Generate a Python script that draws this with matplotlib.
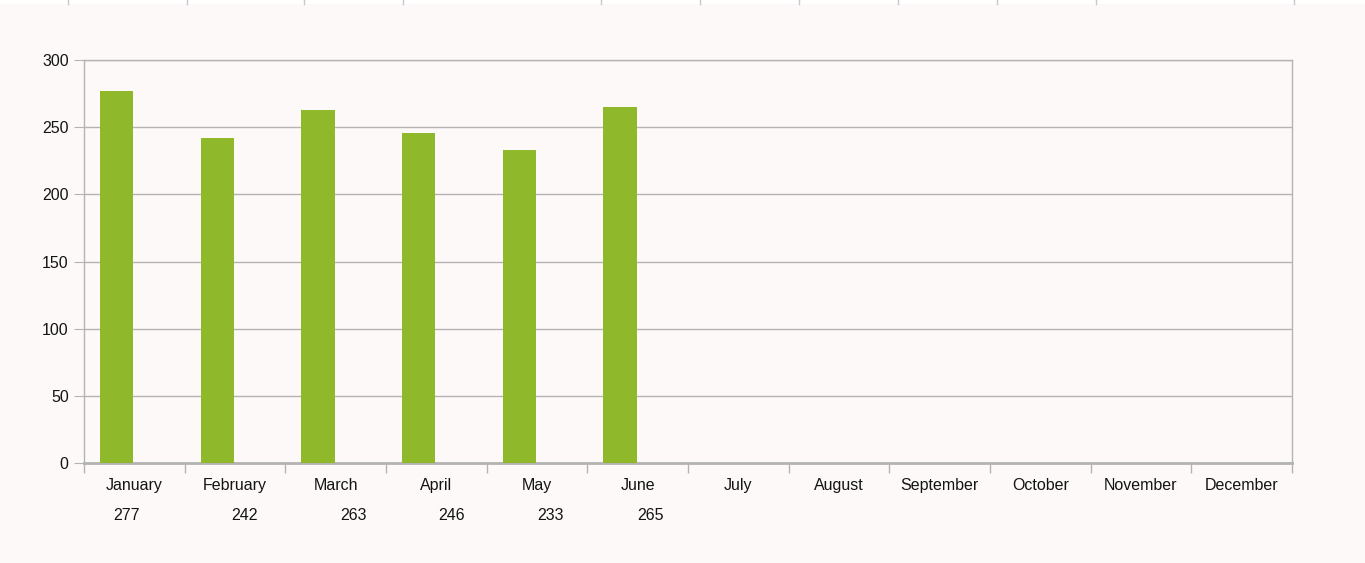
import matplotlib
matplotlib.use("Agg")
import matplotlib.pyplot as plt
from matplotlib.patches import Rectangle
import numpy as np

months = ['January', 'February', 'March', 'April', 'May', 'June', 'July',
          'August', 'September', 'October', 'November', 'December']
values = [277, 242, 263, 246, 233, 265]
# x pixel positions of the value cells under the chart
value_cell_x = [127, 245, 353, 452, 551, 650]
# column separators of the sheet strip at the top
sheet_cols_x = [68, 187, 304, 403, 601, 700, 799, 898, 997, 1096, 1294]

W, H = 1365, 563
bg = '#fdf9f8'
grid_col = '#b3b3b3'
txt_col = '#141414'
fs = 11.5
plt.rcParams['font.family'] = ['Liberation Sans', 'DejaVu Sans']

fig = plt.figure(figsize=(W / 100, H / 100), dpi=100, facecolor=bg)
ax = fig.add_axes([84 / W, 1 - 463 / H, (1292 - 84) / W, (463 - 60) / H])
ax.set_facecolor(bg)

x = np.arange(len(values))
ax.bar(x - 0.175, values, width=0.33, color='#8fb82a', zorder=3)

ax.set_xlim(-0.5, 11.5)
ax.set_ylim(0, 300)
ax.set_yticks(range(0, 301, 50))
ax.yaxis.grid(True, color=grid_col, linewidth=1)
ax.set_axisbelow(True)

# category boundaries as ticks, labels centered between them
ax.set_xticks(np.arange(-0.5, 12, 1))
ax.set_xticklabels([])
ax.set_xticks(np.arange(12), minor=True)
ax.set_xticklabels(months, minor=True, fontsize=fs, color=txt_col)
ax.tick_params(axis='x', which='major', length=7, color=grid_col, width=1)
ax.tick_params(axis='x', which='minor', length=0, pad=11)
ax.tick_params(axis='y', length=7, color=grid_col, labelsize=fs,
               labelcolor=txt_col, pad=4)

for s in ['left', 'right', 'top']:
    ax.spines[s].set_color(grid_col)
    ax.spines[s].set_linewidth(1)
ax.spines['bottom'].set_color(grid_col)
ax.spines['bottom'].set_linewidth(2)

# value cells below the chart
for v, px in zip(values, value_cell_x):
    fig.text(px / W, 1 - 516 / H, str(v), ha='center', va='center',
             fontsize=fs, color=txt_col)

# white sheet strip at the top with column separators
fig.patches.append(Rectangle((0, 1 - 4 / H), 1, 4 / H, transform=fig.transFigure,
                             facecolor='white', edgecolor='none'))
for px in sheet_cols_x:
    fig.add_artist(plt.Line2D([px / W, px / W], [1 - 4 / H, 1],
                              transform=fig.transFigure, color='#c8c8c8', lw=1))

fig.savefig('out.png', dpi=100, facecolor=bg)
